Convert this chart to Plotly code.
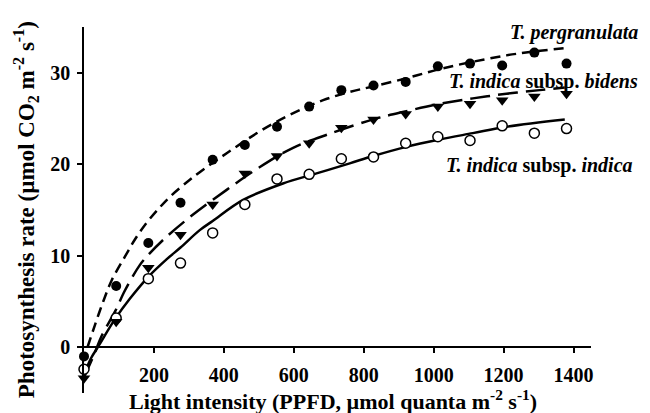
import plotly.graph_objects as go

# Measured points (PPFD, photosynthesis rate)
ppfd = [0, 92, 184, 276, 368, 460, 552, 644, 736, 828, 920, 1012, 1104, 1196, 1288, 1380]
pergranulata = [-1.0, 6.7, 11.4, 15.8, 20.5, 22.1, 24.1, 26.3, 28.1, 28.6, 29.0, 30.7, 31.0, 30.8, 32.2, 31.0]
bidens = [-3.4, 2.8, 8.7, 12.3, 15.6, 19.0, 20.9, 22.3, 24.0, 24.9, 25.5, 26.3, 26.6, 27.0, 27.4, 27.7]
indica = [-2.4, 3.2, 7.5, 9.2, 12.5, 15.6, 18.4, 18.9, 20.6, 20.8, 22.3, 23.0, 22.6, 24.2, 23.4, 23.9]

# Fitted curves
perg_fit_x = [10, 31, 55, 79, 117, 146, 179, 217, 250, 293, 330, 408, 503, 589, 684, 760, 826, 922, 1017, 1112, 1208, 1283, 1375]
perg_fit_y = [0.0, 2.4, 5.0, 7.3, 9.9, 11.8, 13.6, 15.3, 16.6, 18.0, 19.1, 21.2, 23.6, 25.4, 27.0, 27.9, 28.5, 29.4, 30.4, 31.2, 31.9, 32.3, 32.7]
bid_fit_x = [0, 31, 50, 90, 117, 160, 184, 231, 312, 408, 503, 598, 700, 827, 922, 1017, 1112, 1208, 1303, 1375]
bid_fit_y = [-3.3, -0.6, 1.2, 4.0, 6.2, 9.0, 10.1, 11.9, 14.5, 17.2, 19.7, 21.8, 23.3, 24.9, 25.8, 26.6, 27.2, 27.7, 28.1, 28.4]
ind_fit_x = [0, 20, 41, 89, 131, 184, 236, 276, 331, 368, 455, 569, 665, 760, 827, 922, 1017, 1112, 1208, 1375]
ind_fit_y = [-3.0, -1.2, 0.1, 3.1, 5.3, 7.7, 9.6, 10.9, 12.8, 13.8, 16.1, 17.9, 19.0, 20.1, 20.9, 21.9, 22.7, 23.4, 24.1, 24.9]

x_ticks = [200, 400, 600, 800, 1000, 1200, 1400]
y_ticks = [0, 10, 20, 30]

FONT = "Liberation Serif"
fig = go.Figure()

fig.add_trace(go.Scatter(x=ind_fit_x, y=ind_fit_y, mode="lines",
                         line=dict(color="black", width=2.5, shape="spline"), cliponaxis=False))
fig.add_trace(go.Scatter(x=bid_fit_x, y=bid_fit_y, mode="lines",
                         line=dict(color="black", width=2.5, dash="20px,8px", shape="spline"), cliponaxis=False))
fig.add_trace(go.Scatter(x=perg_fit_x, y=perg_fit_y, mode="lines",
                         line=dict(color="black", width=2.5, dash="10px,6px", shape="spline"), cliponaxis=False))

fig.add_trace(go.Scatter(x=ppfd, y=indica, mode="markers", cliponaxis=False,
                         marker=dict(symbol="circle", size=10, color="white", line=dict(color="black", width=1.5))))
fig.add_trace(go.Scatter(x=ppfd, y=bidens, mode="markers", cliponaxis=False,
                         marker=dict(symbol="triangle-down", size=11, color="black", line=dict(width=0))))
fig.add_trace(go.Scatter(x=ppfd, y=pergranulata, mode="markers", cliponaxis=False,
                         marker=dict(symbol="circle", size=10, color="black", line=dict(width=0))))

ann_font = dict(family=FONT, size=20, color="black")
fig.add_annotation(x=1.097, y=0.984, xref="paper", yref="paper", xanchor="right", yanchor="middle", showarrow=False,
                   text="<b><i>T. pergranulata</i></b>", font=ann_font)
fig.add_annotation(x=1.097, y=0.852, xref="paper", yref="paper", xanchor="right", yanchor="middle", showarrow=False,
                   text="<b><i>T. indica</i> subsp. <i>bidens</i></b>", font=ann_font)
fig.add_annotation(x=1.087, y=0.6225, xref="paper", yref="paper", xanchor="right", yanchor="middle", showarrow=False,
                   text="<b><i>T. indica</i> subsp. <i>indica</i></b>", font=ann_font)

# axis titles
fig.add_annotation(x=0.491, y=-0.02, xref="paper", yref="paper", xanchor="center", yanchor="middle",
                   showarrow=False, font=dict(family=FONT, size=22, color="black"),
                   text="<b>Light intensity (PPFD, µmol quanta m<sup>-2</sup> s<sup>-1</sup>)</b>")
fig.add_annotation(x=-0.116, y=0.5, xref="paper", yref="paper", xanchor="center", yanchor="middle",
                   showarrow=False, textangle=-90, font=dict(family=FONT, size=23, color="black"),
                   text="<b>Photosynthesis rate (µmol CO<sub>2</sub> m<sup>-2</sup> s<sup>-1</sup>)</b>")

fig.update_layout(
    width=642, height=405,
    margin=dict(l=76, r=59, t=19, b=20),
    paper_bgcolor="white", plot_bgcolor="white",
    showlegend=False,
    font=dict(family=FONT, size=20, color="black"),
    xaxis=dict(range=[0, 1450], tickvals=x_ticks, ticks="outside", ticklen=5, tickwidth=1.5,
               tickcolor="black", showline=True, linecolor="black", linewidth=1.5,
               showgrid=False, zeroline=False, anchor="free", position=0.125,
               ticklabelstandoff=5,
               tickfont=dict(family=FONT, size=20, color="black", weight="bold")),
    yaxis=dict(range=[-5, 35], tickvals=y_ticks, ticks="outside", ticklen=5, tickwidth=1.5,
               tickcolor="black", showline=True, linecolor="black", linewidth=1.5,
               showgrid=False, zeroline=False, domain=[0, 1],
               ticklabelstandoff=3,
               tickfont=dict(family=FONT, size=20, color="black", weight="bold")),
)

fig.write_html("out.html")
